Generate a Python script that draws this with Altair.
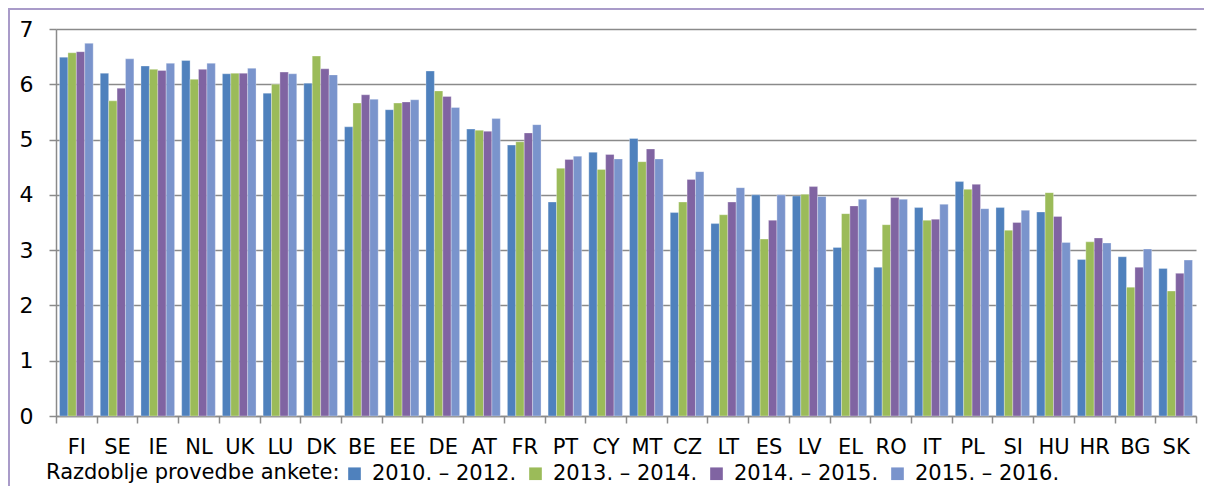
import altair as alt
import pandas as pd

countries = ["FI", "SE", "IE", "NL", "UK", "LU", "DK", "BE", "EE", "DE", "AT", "FR", "PT", "CY",
             "MT", "CZ", "LT", "ES", "LV", "EL", "RO", "IT", "PL", "SI", "HU", "HR", "BG", "SK"]
periods = ["2010. – 2012.", "2013. – 2014.", "2014. – 2015.", "2015. – 2016."]
v2010_2012 = [6.49, 6.20, 6.33, 6.43, 6.19, 5.84, 6.02, 5.23, 5.54, 6.24, 5.19, 4.90, 3.87, 4.77,
              5.02, 3.68, 3.48, 4.00, 3.98, 3.05, 2.69, 3.77, 4.24, 3.77, 3.69, 2.83, 2.88, 2.67]
v2013_2014 = [6.57, 5.70, 6.27, 6.09, 6.20, 6.00, 6.51, 5.66, 5.66, 5.88, 5.17, 4.96, 4.48, 4.46,
              4.60, 3.87, 3.64, 3.20, 4.01, 3.66, 3.46, 3.54, 4.10, 3.36, 4.04, 3.15, 2.33, 2.26]
v2014_2015 = [6.59, 5.93, 6.25, 6.27, 6.20, 6.22, 6.28, 5.81, 5.68, 5.78, 5.15, 5.12, 4.64, 4.73,
              4.83, 4.28, 3.87, 3.54, 4.15, 3.80, 3.95, 3.56, 4.19, 3.50, 3.61, 3.22, 2.69, 2.58]
v2015_2016 = [6.74, 6.46, 6.38, 6.38, 6.29, 6.19, 6.17, 5.73, 5.72, 5.58, 5.38, 5.27, 4.70, 4.65,
              4.65, 4.42, 4.13, 4.00, 3.97, 3.92, 3.92, 3.83, 3.75, 3.72, 3.14, 3.13, 3.02, 2.82]
colors = ["#4F81BD", "#9BBB59", "#8064A2", "#7A94CC"]
y_ticks = [0, 1, 2, 3, 4, 5, 6, 7]

rows = []
for i, c in enumerate(countries):
    for p, vals in zip(periods, [v2010_2012, v2013_2014, v2014_2015, v2015_2016]):
        rows.append({"country": c, "period": p, "value": vals[i]})
df = pd.DataFrame(rows)

FONT = "DejaVu Sans"
GRID = "#8a8a8a"
FRAME = "#A99BC9"

bars = alt.Chart(df).mark_bar(stroke="white", strokeWidth=0.6, strokeOpacity=0.5).encode(
    x=alt.X("country:N", sort=countries,
            scale=alt.Scale(paddingInner=0, paddingOuter=0),
            axis=alt.Axis(title=None, labelAngle=0, tickBand="extent", ticks=True, tickSize=7,
                          tickColor=GRID, domainColor=GRID, domainWidth=1.5, tickWidth=1.5,
                          labelFont=FONT, labelFontSize=21, labelColor="black",
                          labelPadding=13, grid=False)),
    xOffset=alt.XOffset("period:N", sort=periods,
                        scale=alt.Scale(paddingInner=0, paddingOuter=0.42)),
    y=alt.Y("value:Q", scale=alt.Scale(domain=[0, 7], nice=False),
            axis=alt.Axis(title=None, values=y_ticks, tickSize=7, tickColor=GRID, tickWidth=1.5,
                          domainColor=GRID, domainWidth=1.5, grid=True, gridColor=GRID,
                          gridWidth=1.5, labelFont=FONT, labelFontSize=22,
                          labelColor="black", labelPadding=16)),
    color=alt.Color("period:N",
                    scale=alt.Scale(domain=periods, range=colors),
                    legend=alt.Legend(title="Razdoblje provedbe ankete:", orient="none",
                                      legendX=-10, legendY=434, direction="horizontal",
                                      padding=0,
                                      titleOrient="left", titleFont=FONT, titleFontSize=21,
                                      titleFontWeight="normal", titleColor="black",
                                      titlePadding=4, titleBaseline="middle", titleLimit=500,
                                      labelFont=FONT, labelFontSize=21, labelColor="black",
                                      labelLimit=300,
                                      symbolType="square", symbolSize=160, symbolStrokeWidth=0,
                                      labelOffset=7, columnPadding=8)),
)

frame_data = pd.DataFrame({"a": [0]})
frame_left = alt.Chart(frame_data).mark_rule(color=FRAME, strokeWidth=2).encode(
    x=alt.value(-47), y=alt.value(-21), y2=alt.value(470)
)
frame_top = alt.Chart(frame_data).mark_rule(color=FRAME, strokeWidth=2).encode(
    x=alt.value(-48), x2=alt.value(1160), y=alt.value(-20)
)

chart = alt.layer(frame_left, frame_top, bars).properties(
    width=1140, height=387,
    padding={"left": 48, "top": 21, "right": 8, "bottom": 70},
    autosize="none",
).configure_view(stroke=None)

chart.save("out.html", embed_options={"renderer": "svg", "actions": False})
